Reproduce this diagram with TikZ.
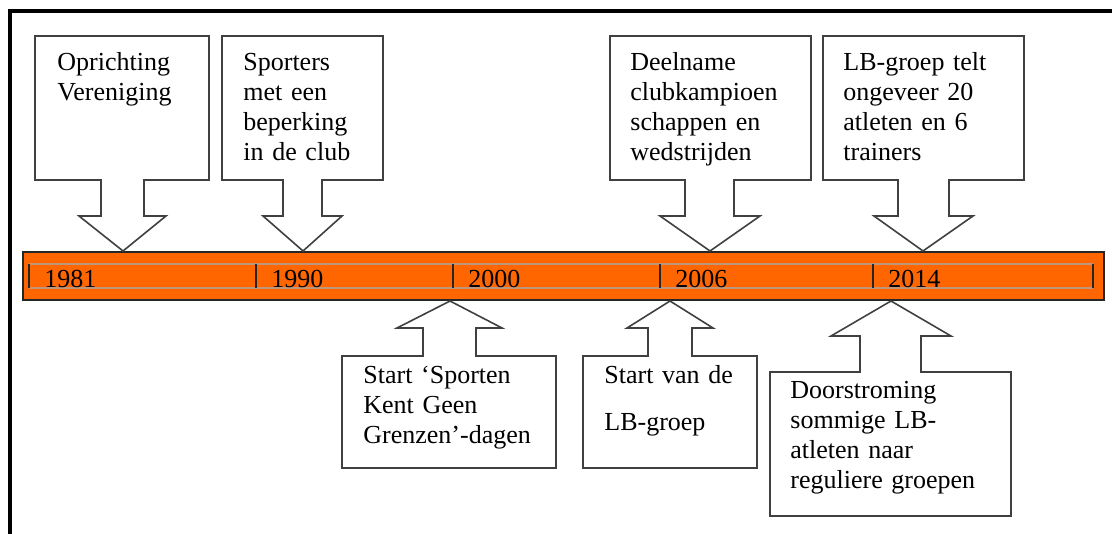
\documentclass[tikz,border=0pt]{standalone}
\usepackage{fontspec}
\setmainfont{Liberation Serif}
\definecolor{balkkleur}{RGB}{255,102,0}
\definecolor{randkleur}{RGB}{64,64,64}
\definecolor{lijnkleur}{RGB}{190,150,125}

\begin{document}
\begin{tikzpicture}[x=0.5pt, y=-0.5pt,
    callout/.style={draw=randkleur, line width=0.8pt, fill=white, line join=miter},
    txt/.style={anchor=base west, inner sep=0pt, text width=130pt, align=left, font=\fontsize{13}{15}\selectfont},
    jaar/.style={anchor=base west, inner sep=0pt, font=\fontsize{13}{15}\selectfont},
    hulplijn/.style={draw=lijnkleur, line width=0.75pt},
    streep/.style={draw=black!85, line width=0.75pt}]
        \useasboundingbox (0,0) rectangle (1112,534);

        % Kader
        \draw[line width=2pt] (10,534) -- (10,11.5) -- (1112,11.5);

        % Tijdlijn
        \draw[fill=balkkleur, draw=black!85, line width=0.75pt] (23,252) rectangle (1104,300);
        \draw[hulplijn] (29,264) -- (1093,264);
        \draw[hulplijn] (29,288) -- (1093,288);
        \foreach \x/\j in {29/1981, 256/1990, 453/2000, 660/2006, 873/2014} {
            \draw[streep] (\x,264) -- (\x,288);
            \node[jaar] (j\j) at (\x+15,287) {\j};
        }
        \draw[streep] (1093,264) -- (1093,288);

        % Punten op de balk
        \coordinate (t1) at (123,251);
        \coordinate (t2) at (303,251);
        \coordinate (t3) at (710,251);
        \coordinate (t4) at (923,251);
        \coordinate (b1) at (450,301);
        \coordinate (b2) at (670,301);
        \coordinate (b3) at (891,301);

        % Bovenste callouts
        \draw[callout] (35,36) -- (209,36) -- (209,180) -- (144,180) -- (144,216) -- (166,216) -- (t1)
            -- (79,216) -- (101,216) -- (101,180) -- (35,180) -- cycle;
        \draw[callout] (222,36) -- (383,36) -- (383,180) -- (322,180) -- (322,216) -- (342,216) -- (t2)
            -- (263,216) -- (283,216) -- (283,180) -- (222,180) -- cycle;
        \draw[callout] (610,36) -- (811,36) -- (811,180) -- (734,180) -- (734,216) -- (760,216) -- (t3)
            -- (660,216) -- (685,216) -- (685,180) -- (610,180) -- cycle;
        \draw[callout] (823,36) -- (1024,36) -- (1024,180) -- (949,180) -- (949,216) -- (973,216) -- (t4)
            -- (874,216) -- (898,216) -- (898,180) -- (823,180) -- cycle;

        \node[txt] (opr) at (57,71) {Oprichting\\Vereniging};
        \node[txt] (spo) at (243,71) {Sporters\\met een\\beperking\\in de club};
        \node[txt] (dee) at (630,71) {Deelname\\clubkampioen\\schappen en\\wedstrijden};
        \node[txt] (lbg) at (843,71) {LB-groep telt\\ongeveer 20\\atleten en 6\\trainers};

        % Onderste callouts
        \draw[callout] (342,468) -- (342,356) -- (423,356) -- (423,328) -- (397,328) -- (b1)
            -- (502,328) -- (476,328) -- (476,356) -- (556,356) -- (556,468) -- cycle;
        \draw[callout] (583,468) -- (583,356) -- (648,356) -- (648,328) -- (627,328) -- (b2)
            -- (713,328) -- (692,328) -- (692,356) -- (757,356) -- (757,468) -- cycle;
        \draw[callout] (770,516) -- (770,372) -- (860,372) -- (860,336) -- (831,336) -- (b3)
            -- (951,336) -- (921,336) -- (921,372) -- (1011,372) -- (1011,516) -- cycle;

        \node[txt] (skg) at (363,383) {Start ‘Sporten\\Kent Geen\\Grenzen’-dagen};
        \node[txt] (svd) at (604,383) {Start van de\\[8.5pt]LB-groep};
        \node[txt] (doo) at (790,398) {Doorstroming\\sommige LB-\\atleten naar\\reguliere groepen};
    \end{tikzpicture}
\end{document}
